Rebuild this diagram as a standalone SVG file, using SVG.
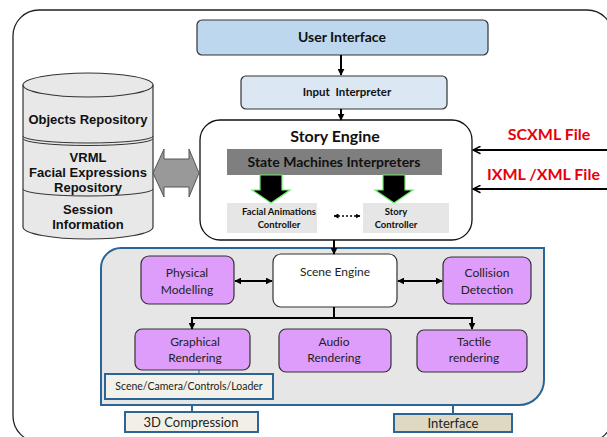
<svg xmlns="http://www.w3.org/2000/svg" width="607" height="437" viewBox="0 0 607 437">
<defs>
<style>
.cal{font-family:Lato,"Open Sans","Liberation Sans",sans-serif}
.ari{font-family:"Liberation Sans",Arial,sans-serif;font-weight:bold;font-size:13px;fill:#111}
.b{font-weight:bold}
.pur{fill:#df9dfb;stroke:#333;stroke-width:1.2}
.lbl{font-size:12px;fill:#222}
.blu{stroke:#2a6595;stroke-width:2}
.con{stroke:#000;stroke-width:2;fill:none}
</style>
<marker id="ah" viewBox="0 0 10 10" refX="9" refY="5" markerWidth="7" markerHeight="7" markerUnits="userSpaceOnUse" orient="auto-start-reverse"><path d="M0,0 L10,5 L0,10 z" fill="#000"/></marker>
<marker id="ah2" viewBox="0 0 10 10" refX="9" refY="5" markerWidth="5" markerHeight="5" markerUnits="userSpaceOnUse" orient="auto-start-reverse"><path d="M0,0 L10,5 L0,10 z" fill="#000"/></marker>
<marker id="open" viewBox="0 0 12 12" refX="11" refY="6" markerWidth="9" markerHeight="9" markerUnits="userSpaceOnUse" orient="auto"><path d="M1,1 L11,6 L1,11" fill="none" stroke="#000" stroke-width="2"/></marker>
</defs>
<rect width="607" height="437" fill="#fff"/>
<rect x="13" y="10" width="600" height="432" rx="26" fill="#fff" stroke="#222" stroke-width="1.3"/>

<g id="user-interface">
<rect x="197" y="20" width="291" height="35" rx="5" fill="#bdd7ee" stroke="#333" stroke-width="1.2"/>
<text x="342" y="42" class="cal b" font-size="14" text-anchor="middle" fill="#111">User Interface</text>
</g>
<g id="input-interpreter">
<rect x="241" y="76" width="206" height="33" rx="5" fill="#dbe8f4" stroke="#333" stroke-width="1.2"/>
<text x="347" y="96" class="cal b" font-size="11.5" text-anchor="middle" fill="#111" xml:space="preserve">Input  Interpreter</text>
</g>
<g id="story-engine">
<rect x="200" y="120" width="272" height="120" rx="20" fill="#fff" stroke="#111" stroke-width="1.3"/>
<text x="335" y="142" class="cal b" font-size="16" text-anchor="middle" fill="#111">Story Engine</text>
<rect x="227" y="149" width="215" height="26" fill="#7f7f7f"/>
<text x="334" y="167" class="cal b" font-size="14" text-anchor="middle" fill="#111">State Machines Interpreters</text>
</g>
<g id="facial-animations-controller">
<rect x="227" y="203" width="90" height="30" fill="#e6e6e6"/>
<text x="279" y="215" class="cal b" font-size="9.5" text-anchor="middle" fill="#111">Facial Animations</text>
<text x="279" y="228" class="cal b" font-size="9.5" text-anchor="middle" fill="#111">Controller</text>
</g>
<g id="story-controller">
<rect x="363" y="203" width="86" height="30" fill="#e6e6e6"/>
<text x="396" y="215" class="cal b" font-size="9.5" text-anchor="middle" fill="#111">Story</text>
<text x="396" y="228" class="cal b" font-size="9.5" text-anchor="middle" fill="#111">Controller</text>
</g>
<g id="repository">
<path d="M23,85 L23,227 A65,12 0 0 0 153,227 L153,85" fill="#e8e8e8" stroke="#333" stroke-width="1.2"/>
<ellipse cx="88" cy="85" rx="65" ry="12" fill="#e8e8e8" stroke="#333" stroke-width="1.2"/>
<path d="M23,136 A65,7 0 0 0 153,136" fill="none" stroke="#333" stroke-width="1"/>
<path d="M23,138.5 A65,7 0 0 0 153,138.5" fill="none" stroke="#333" stroke-width="1"/>
<path d="M23,189 A65,7 0 0 0 153,189" fill="none" stroke="#333" stroke-width="1"/>
<text x="88" y="124" class="ari" text-anchor="middle">Objects Repository</text>
<text x="88" y="162" class="ari" text-anchor="middle">VRML</text>
<text x="88" y="177" class="ari" text-anchor="middle">Facial Expressions</text>
<text x="88" y="192" class="ari" text-anchor="middle">Repository</text>
<text x="88" y="214" class="ari" text-anchor="middle">Session</text>
<text x="88" y="229" class="ari" text-anchor="middle">Information</text>
</g>
<g id="scxml-file">
<text x="549" y="140" class="cal b" font-size="16" text-anchor="middle" fill="#e8000b">SCXML File</text>
</g>
<g id="ixml-file">
<text x="487" y="180" class="cal b" font-size="16" fill="#e8000b">IXML /XML File</text>
</g>
<g id="scene-panel">
<path d="M121,248 L544,248 L544,380 A25,25 0 0 1 519,405 L101,405 L101,268 A20,20 0 0 1 121,248 Z" fill="#e6e6e6" class="blu"/>
</g>
<g id="physical-modelling">
<rect x="141" y="256" width="93" height="48" rx="8" class="pur"/>
<text x="187" y="277" class="cal lbl" text-anchor="middle">Physical</text>
<text x="187" y="294" class="cal lbl" text-anchor="middle">Modelling</text>
</g>
<g id="scene-engine">
<rect x="273" y="254" width="124" height="53" rx="8" fill="#fff" stroke="#333" stroke-width="1.2"/>
<text x="335" y="276" class="cal lbl" text-anchor="middle">Scene Engine</text>
</g>
<g id="collision-detection">
<rect x="443" y="257" width="88" height="47" rx="8" class="pur"/>
<text x="487" y="277" class="cal lbl" text-anchor="middle">Collision</text>
<text x="487" y="294" class="cal lbl" text-anchor="middle">Detection</text>
</g>
<g id="graphical-rendering">
<rect x="135" y="329" width="115" height="41" rx="7" class="pur"/>
<text x="195" y="346" class="cal lbl" text-anchor="middle">Graphical</text>
<text x="195" y="362" class="cal lbl" text-anchor="middle">Rendering</text>
</g>
<g id="audio-rendering">
<rect x="279" y="329" width="112" height="43" rx="7" class="pur"/>
<text x="334" y="346" class="cal lbl" text-anchor="middle">Audio</text>
<text x="334" y="362" class="cal lbl" text-anchor="middle">Rendering</text>
</g>
<g id="tactile-rendering">
<rect x="417" y="330" width="110" height="42" rx="7" class="pur"/>
<text x="474" y="346" class="cal lbl" text-anchor="middle">Tactile</text>
<text x="474" y="362" class="cal lbl" text-anchor="middle">rendering</text>
</g>
<g id="scene-camera-loader">
<rect x="105" y="374" width="168" height="25" fill="#f2f1ea" class="blu"/>
<text x="189" y="390" class="cal" font-size="10.5" text-anchor="middle" fill="#222">Scene/Camera/Controls/Loader</text>
</g>
<g id="compression">
<rect x="125" y="412" width="133" height="20" fill="#f2f0e6" class="blu"/>
<text x="191" y="427" class="cal" font-size="13" text-anchor="middle" fill="#222">3D Compression</text>
</g>
<g id="interface">
<rect x="394" y="414" width="118" height="18" fill="#ddd9c3" class="blu"/>
<text x="453" y="428" class="cal" font-size="13" text-anchor="middle" fill="#222">Interface</text>
</g>

<g id="connectors">
<line x1="341" y1="55" x2="341" y2="75" class="con" marker-end="url(#ah)"/>
<line x1="341" y1="109" x2="341" y2="120" class="con" marker-end="url(#ah)"/>
<polygon points="260,175 282,175 282,190 290,190 271,203 252,190 260,190" fill="#000" stroke="#6fef6f" stroke-width="1.2"/>
<polygon points="383,175 405,175 405,190 413,190 394,203 375,190 383,190" fill="#000" stroke="#6fef6f" stroke-width="1.2"/>
<line x1="334" y1="216" x2="360" y2="216" stroke="#000" stroke-width="1.5" stroke-dasharray="2,2" marker-start="url(#ah2)" marker-end="url(#ah2)"/>
<polygon points="153,173 164,149 164,159 189,159 189,149 199,173 189,197 189,187 164,187 164,197" fill="#999" stroke="#555" stroke-width="1"/>
<line x1="607" y1="150" x2="473" y2="150" stroke="#000" stroke-width="2" marker-end="url(#open)"/>
<line x1="607" y1="189" x2="473" y2="189" stroke="#000" stroke-width="2" marker-end="url(#open)"/>
<line x1="334" y1="240" x2="334" y2="254" class="con" marker-end="url(#ah)"/>
<line x1="235" y1="281" x2="272" y2="281" class="con" marker-start="url(#ah)" marker-end="url(#ah)"/>
<line x1="398" y1="281" x2="442" y2="281" class="con" marker-start="url(#ah)" marker-end="url(#ah)"/>
<path d="M334,307 L334,318" class="con"/>
<path d="M192,318 L472,318" class="con"/>
<line x1="192" y1="317" x2="192" y2="329" class="con" marker-end="url(#ah)"/>
<line x1="472" y1="317" x2="472" y2="329" class="con" marker-end="url(#ah)"/>
<line x1="199" y1="370" x2="199" y2="374" stroke="#2a6595" stroke-width="1"/>
<line x1="192" y1="405" x2="192" y2="412" stroke="#2a6595" stroke-width="2"/>
<line x1="453" y1="405" x2="453" y2="414" stroke="#2a6595" stroke-width="2"/>
</g>
</svg>
